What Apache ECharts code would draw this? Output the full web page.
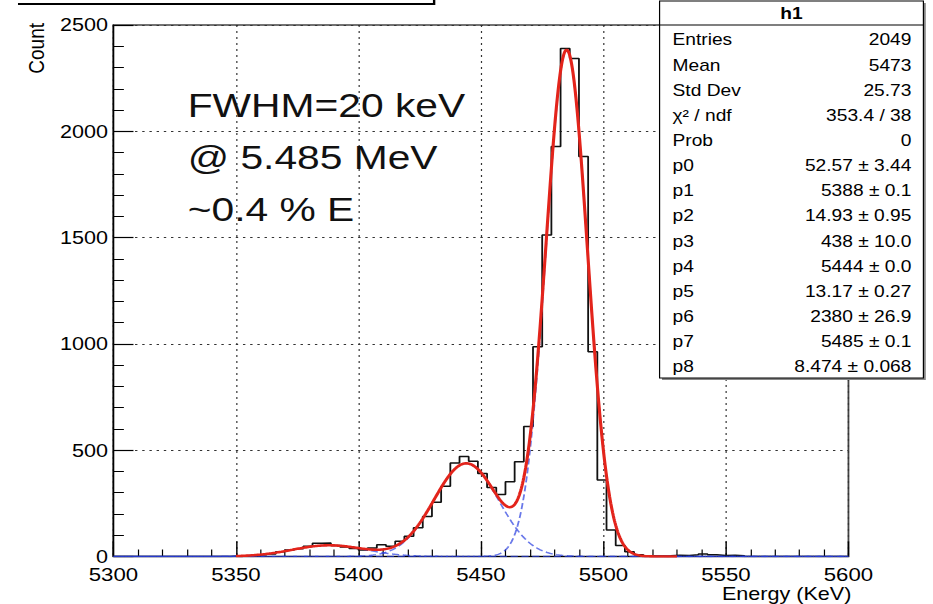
<!DOCTYPE html>
<html>
<head>
<meta charset="utf-8">
<script src="https://cdn.jsdelivr.net/npm/echarts@6/dist/echarts.min.js"></script>
<style>
  html, body { margin: 0; padding: 0; background: #fff; overflow: hidden; width: 933px; height: 604px; }
  /* the canvas is drawn narrower and widened to the page, like a stretched ROOT canvas */
  #chart { width: 778px; height: 604px; transform: scaleX(1.19923); transform-origin: 0 0; }
</style>
</head>
<body>
<div id="chart"></div>
<script>
// ---- histogram h1 (energy spectrum) ----
const binStart = 5340;      // keV, lower edge of the first bin listed
const binWidth = 3.75;      // keV
const binCounts = [
  0, 0, 2, 3, 6, 8, 12, 22, 30, 36,
  48, 62, 64, 52, 45, 38, 30, 40, 55, 48,
  72, 95, 135, 188, 255, 330, 440, 470, 448, 390,
  325, 292, 352, 446, 611, 987, 1512, 1928, 2390, 2343,
  1881, 963, 360, 125, 52, 22, 8, 4, 2, 3,
  6, 5, 8, 12, 8, 5, 6, 4
];

// ---- fit: sum of three Gaussians, parameters p0..p8 ----
const fitParams = [52.57, 5388, 14.93, 438, 5444, 13.17, 2380, 5485, 8.474];
const fitRange = [5350, 5530];

// ---- axes ----
const xRange = [5300, 5600];
const xInterval = 50;
const yRange = [0, 2500];
const yInterval = 500;
const xTitle = 'Energy (KeV)';
const yTitle = 'Count';

// ---- stats box ----
const statsTitle = 'h1';
const statLabels = ['Entries', 'Mean', 'Std Dev', 'χ² / ndf', 'Prob',
  'p0', 'p1', 'p2', 'p3', 'p4', 'p5', 'p6', 'p7', 'p8'];
const statValues = ['2049', '5473', '25.73', '353.4 / 38', '0',
  '52.57 ± 3.44', '5388 ± 0.1', '14.93 ± 0.95', '438 ± 10.0', '5444 ± 0.0',
  '13.17 ± 0.27', '2380 ± 26.9', '5485 ± 0.1', '8.474 ± 0.068'];

// ---- annotation ----
const noteLines = ['FWHM=20 keV', '@ 5.485 MeV', '~0.4 % E'];

const FONT = '"Liberation Sans", Arial, Helvetica, sans-serif';

// step outline of the histogram
const histPoints = [[xRange[0], 0], [binStart, 0]];
binCounts.forEach((c, i) => histPoints.push([binStart + (i + 1) * binWidth, c]));
histPoints.push([binStart + binCounts.length * binWidth, 0]);
histPoints.push([xRange[1], 0]);

function gauss(x, a, m, s) { return a * Math.exp(-0.5 * Math.pow((x - m) / s, 2)); }
function component(k, x) { return gauss(x, fitParams[3 * k], fitParams[3 * k + 1], fitParams[3 * k + 2]); }

const compSeries = [0, 1, 2].map(k => {
  const pts = [];
  for (let x = xRange[0]; x <= xRange[1] + 1e-9; x += 0.5) pts.push([x, component(k, x)]);
  return {
    type: 'line', data: pts, showSymbol: false, silent: true, z: 3,
    lineStyle: { color: '#2a3fe0', width: 1.5, opacity: 0.7, type: [6, 3], dashOffset: k * 3 }
  };
});

const totalPts = [];
for (let x = fitRange[0]; x <= fitRange[1] + 1e-9; x += 0.25) {
  totalPts.push([x, component(0, x) + component(1, x) + component(2, x)]);
}

// stats box graphics
const boxL = 550, boxR = 770, boxT = 1, boxB = 378, rowY0 = 40, rowStep = 25.15;
const statsGraphics = [
  { type: 'rect', shape: { x: boxL + 2, y: boxT + 2, width: boxR - boxL, height: boxB - boxT },
    style: { fill: '#888' }, z: 100 },
  { type: 'rect', shape: { x: boxL, y: boxT, width: boxR - boxL, height: boxB - boxT },
    style: { fill: '#fff', stroke: '#000', lineWidth: 1 }, z: 101 },
  { type: 'line', shape: { x1: boxL, y1: 25, x2: boxR, y2: 25 },
    style: { stroke: '#000', lineWidth: 1 }, z: 102 },
  { type: 'text', x: (boxL + boxR) / 2, y: 13.5, z: 102,
    style: { text: statsTitle, fontSize: 16, fontFamily: FONT, fontWeight: 'bold', fill: '#000',
      align: 'center', verticalAlign: 'middle' } }
];
statLabels.forEach((lab, i) => {
  const y = rowY0 + i * rowStep;
  statsGraphics.push({ type: 'text', x: boxL + 10.8, y: y, z: 102,
    style: { text: lab, fontSize: 16, fontFamily: FONT, fill: '#000', align: 'left', verticalAlign: 'middle' } });
  statsGraphics.push({ type: 'text', x: boxR - 10, y: y, z: 102,
    style: { text: statValues[i], fontSize: 16, fontFamily: FONT, fill: '#000', align: 'right', verticalAlign: 'middle' } });
});

const noteGraphics = noteLines.map((t, i) => ({
  type: 'text', x: 156.5, y: 105 + i * 52, z: 50,
  style: { text: t, fontSize: 34, fontFamily: FONT, fill: '#111', align: 'left', verticalAlign: 'middle' }
}));

const plainNumber = v => String(v);

const chart = echarts.init(document.getElementById('chart'), null, { renderer: 'svg' });
chart.setOption({
  animation: false,
  backgroundColor: '#fff',
  grid: { left: 94.6, right: 70.5, top: 25, bottom: 47.5, show: true,
    borderColor: '#444', borderWidth: 1.5, backgroundColor: 'transparent' },
  xAxis: {
    type: 'value', min: xRange[0], max: xRange[1], interval: xInterval,
    axisLine: { onZero: false, lineStyle: { color: '#000', width: 1.2 } },
    axisTick: { inside: true, length: 15, lineStyle: { color: '#000', width: 1.2 } },
    minorTick: { show: true, splitNumber: 5, length: 7, lineStyle: { color: '#000', width: 1 } },
    axisLabel: { margin: 11, fontSize: 18.5, lineHeight: 15, fontFamily: FONT, color: '#000', formatter: plainNumber },
    splitLine: { show: true, lineStyle: { color: '#333', width: 1, type: [2, 4] } }
  },
  yAxis: {
    type: 'value', min: yRange[0], max: yRange[1], interval: yInterval,
    axisLine: { show: true, lineStyle: { color: '#000', width: 1.2 } },
    axisTick: { show: true, inside: true, length: 16.7, lineStyle: { color: '#000', width: 1.2 } },
    minorTick: { show: true, splitNumber: 5, length: 8.7, lineStyle: { color: '#000', width: 1 } },
    axisLabel: { margin: 4.6, fontSize: 18, lineHeight: 13, fontFamily: FONT, color: '#000', formatter: plainNumber },
    splitLine: { show: true, lineStyle: { color: '#333', width: 1, type: [2, 4] } }
  },
  series: [
    { type: 'line', data: histPoints, step: 'start', showSymbol: false, silent: true, z: 2,
      lineStyle: { color: '#111', width: 1.5 } },
    ...compSeries,
    { type: 'line', data: totalPts, showSymbol: false, silent: true, z: 4, smooth: false,
      lineStyle: { color: '#e3241b', width: 2.6 } }
  ],
  graphic: [
    // lower edge of the title pave, cut by the canvas top
    { type: 'polyline', shape: { points: [[15, 4], [362, 4], [362, 0]] },
      style: { stroke: '#000', lineWidth: 2, fill: null }, z: 50 },
    ...noteGraphics,
    ...statsGraphics,
    { type: 'text', x: 30, y: 23, rotation: Math.PI / 2, z: 50,
      style: { text: yTitle, fontSize: 19, fontFamily: FONT, fill: '#000', align: 'right', verticalAlign: 'middle' } },
    { type: 'text', x: 710, y: 594, z: 50,
      style: { text: xTitle, fontSize: 18, fontFamily: FONT, fill: '#000', align: 'right', verticalAlign: 'middle' } }
  ]
});
</script>
</body>
</html>
